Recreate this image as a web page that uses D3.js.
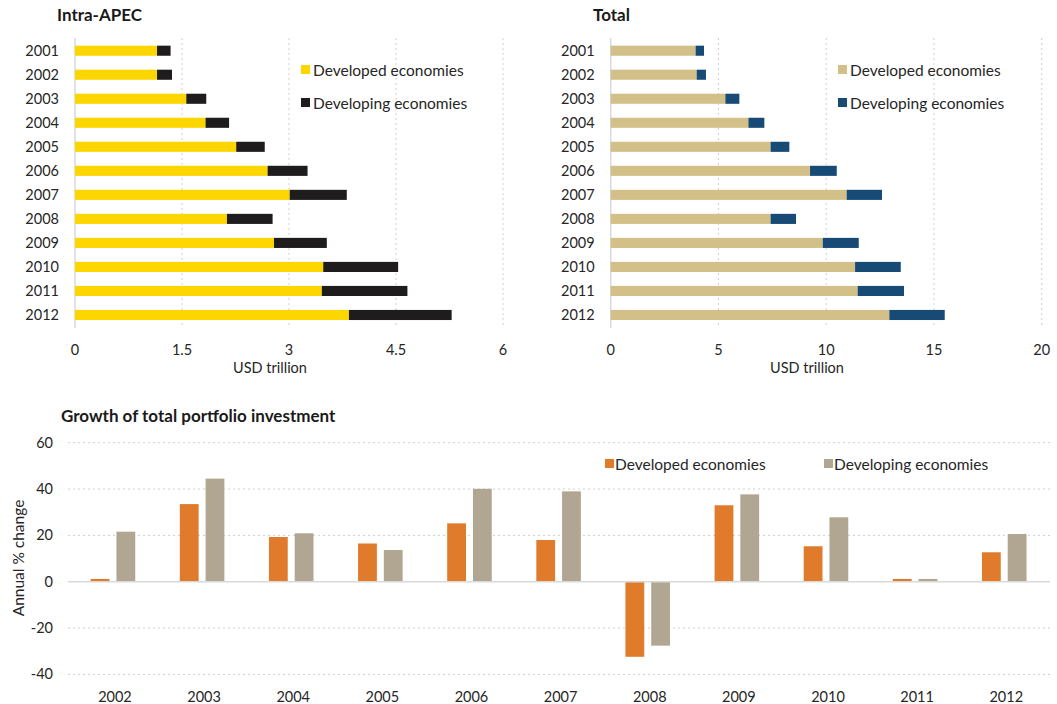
<!DOCTYPE html>
<html>
<head>
<meta charset="utf-8">
<script src="https://cdn.jsdelivr.net/npm/d3@7"></script>
<style>
  body { margin: 0; background: #fff; }
  svg text { font-family: Lato, "Open Sans", sans-serif; fill: #262626; }
</style>
</head>
<body>
<svg id="canvas" width="1057" height="704"></svg>
<script>
// ---- data ----
var years = ['2001','2002','2003','2004','2005','2006','2007','2008','2009','2010','2011','2012'];
var apecDeveloped  = [1.15, 1.15, 1.56, 1.83, 2.26, 2.70, 3.01, 2.13, 2.79, 3.48, 3.46, 3.84];
var apecDeveloping = [0.19, 0.21, 0.28, 0.33, 0.40, 0.56, 0.80, 0.64, 0.74, 1.05, 1.20, 1.44];
var totalDeveloped  = [3.94, 3.99, 5.32, 6.39, 7.42, 9.25, 10.95, 7.42, 9.84, 11.34, 11.46, 12.93];
var totalDeveloping = [0.39, 0.43, 0.65, 0.74, 0.87, 1.24, 1.64, 1.18, 1.67, 2.12, 2.15, 2.57];
var apecTicks = [0, 1.5, 3, 4.5, 6];
var totalTicks = [0, 5, 10, 15, 20];

var growthYears = ['2002','2003','2004','2005','2006','2007','2008','2009','2010','2011','2012'];
var growthDeveloped  = [1.2, 33.5, 19.3, 16.5, 25.2, 18.0, -32.4, 33.0, 15.3, 1.2, 12.7];
var growthDeveloping = [21.6, 44.5, 20.9, 13.7, 40.1, 39.0, -27.6, 37.7, 27.8, 1.2, 20.6];
var growthTicks = [-40, -20, 0, 20, 40, 60];
var seriesNames = ['Developed economies', 'Developing economies'];

var svg = d3.select('#canvas');

// ************************************************************ //
// stacked horizontal bar panel

function barPanel(opt){
  var g = svg.append('g');
  var x = d3.scaleLinear().domain([0, opt.ticks[opt.ticks.length-1]]).range([opt.x0, opt.x1]);
  var y = d3.scaleBand().domain(years).range([38.7, 327]).paddingInner(0.58).paddingOuter(0.29);

  g.append('text').attr('x', opt.titleX).attr('y', 21)
    .style('font-weight', 'bold').style('font-size', '17px').style('fill', '#1a1a1a').text(opt.title);

  // grid
  g.selectAll('.grid').data(opt.ticks.slice(1)).enter().append('line')
    .attr('x1', d => x(d)).attr('x2', d => x(d)).attr('y1', 38).attr('y2', 328)
    .style('stroke', '#cfcfcf').style('stroke-width', 1).style('stroke-dasharray', '2,3');
  g.append('line').attr('x1', x(0)).attr('x2', x(0)).attr('y1', 38).attr('y2', 328)
    .style('stroke', '#d9d9d9').style('stroke-width', 1.5);

  // bars
  g.selectAll('.dev').data(years).enter().append('rect')
    .attr('x', x(0)).attr('y', d => y(d)).attr('height', y.bandwidth())
    .attr('width', (d,i) => x(opt.dev[i]) - x(0)).style('fill', opt.colors[0]);
  g.selectAll('.dvg').data(years).enter().append('rect')
    .attr('x', (d,i) => x(opt.dev[i])).attr('y', d => y(d)).attr('height', y.bandwidth())
    .attr('width', (d,i) => x(opt.dev[i] + opt.dvg[i]) - x(opt.dev[i])).style('fill', opt.colors[1]);

  // axes labels
  g.selectAll('.ylab').data(years).enter().append('text')
    .attr('x', opt.x0 - 16).attr('y', d => y(d) + y.bandwidth()/2 + 5)
    .attr('text-anchor', 'end').style('font-size', '14.5px').text(d => d);
  g.selectAll('.xlab').data(opt.ticks).enter().append('text')
    .attr('x', d => x(d)).attr('y', 355).attr('text-anchor', 'middle')
    .style('font-size', '14.5px').text(d => d);
  g.append('text').attr('x', opt.unitX).attr('y', 373).attr('text-anchor', 'middle')
    .style('font-size', '14.5px').text('USD trillion');

  // legend
  seriesNames.forEach(function(n, i){
    g.append('rect').attr('x', opt.legX).attr('y', 65 + i*33).attr('width', 9).attr('height', 9).style('fill', opt.colors[i]);
    g.append('text').attr('x', opt.legX + 12).attr('y', 76 + i*33).style('font-size', '15.5px').text(n);
  });
}

barPanel({ title: 'Intra-APEC', titleX: 57, x0: 75, x1: 503, ticks: apecTicks,
  dev: apecDeveloped, dvg: apecDeveloping, colors: ['#fdd600', '#1f1c1d'], unitX: 270, legX: 301 });
barPanel({ title: 'Total', titleX: 593, x0: 610.7, x1: 1041.7, ticks: totalTicks,
  dev: totalDeveloped, dvg: totalDeveloping, colors: ['#d3c089', '#174a75'], unitX: 807, legX: 838 });

// ************************************************************ //
// growth grouped column chart

var gb = svg.append('g');
var x0 = d3.scaleBand().domain(growthYears).range([68.4, 1048.8]).paddingInner(0.5).paddingOuter(0.25);
var x1 = d3.scaleBand().domain([0, 1]).range([0, x0.bandwidth()]).paddingInner(0.27);
var yG = d3.scaleLinear().domain([-40, 60]).range([674.4, 442.7]);
var growthColors = ['#e07b2b', '#b0a692'];

gb.append('text').attr('x', 61).attr('y', 422)
  .style('font-weight', 'bold').style('font-size', '17px').style('fill', '#1a1a1a')
  .text('Growth of total portfolio investment');

gb.selectAll('.grid').data(growthTicks.filter(d => d != 0)).enter().append('line')
  .attr('x1', 68).attr('x2', 1050).attr('y1', d => yG(d)).attr('y2', d => yG(d))
  .style('stroke', '#cfcfcf').style('stroke-dasharray', '2,3');

[growthDeveloped, growthDeveloping].forEach(function(vals, s){
  gb.selectAll('.s' + s).data(growthYears).enter().append('rect')
    .attr('x', d => x0(d) + x1(s)).attr('width', x1.bandwidth())
    .attr('y', (d,i) => yG(Math.max(0, vals[i])))
    .attr('height', (d,i) => Math.abs(yG(vals[i]) - yG(0)))
    .style('fill', growthColors[s]);
});

gb.append('line').attr('x1', 68).attr('x2', 1050).attr('y1', yG(0)).attr('y2', yG(0))
  .style('stroke', '#d9d9d9').style('stroke-width', 1.5);

gb.selectAll('.ytick').data(growthTicks).enter().append('text')
  .attr('x', 53).attr('y', d => yG(d) + 5).attr('text-anchor', 'end')
  .style('font-size', '14.5px').text(d => d);
gb.selectAll('.xtick').data(growthYears).enter().append('text')
  .attr('x', d => x0(d) + x0.bandwidth()/2 + 2).attr('y', 702).attr('text-anchor', 'middle')
  .style('font-size', '14.5px').text(d => d);
gb.append('text').attr('transform', 'translate(24,558) rotate(-90)').attr('text-anchor', 'middle')
  .style('font-size', '15.5px').text('Annual % change');

seriesNames.forEach(function(n, i){
  var lx = [605, 824][i];
  gb.append('rect').attr('x', lx).attr('y', 459).attr('width', 9).attr('height', 9).style('fill', growthColors[i]);
  gb.append('text').attr('x', lx + 10).attr('y', 470).style('font-size', '15.5px').text(n);
});
</script>
</body>
</html>
